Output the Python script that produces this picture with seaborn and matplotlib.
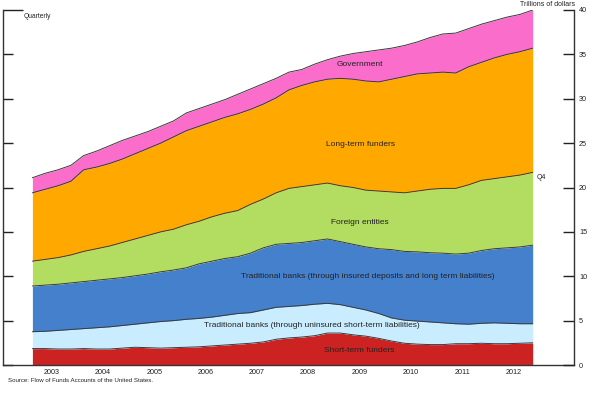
import numpy as np
import pandas as pd
import matplotlib.pyplot as plt
import seaborn as sns

# quarterly data, trillions of dollars
quarters = pd.period_range("2003Q1", "2012Q4", freq="Q")

short_term = [1.85, 1.85, 1.80, 1.80, 1.85, 1.80, 1.80, 1.90, 2.00, 1.95,
              1.90, 1.95, 2.00, 2.05, 2.15, 2.25, 2.35, 2.45, 2.60, 2.90,
              3.05, 3.15, 3.30, 3.60, 3.60, 3.40, 3.25, 3.00, 2.70, 2.45,
              2.35, 2.30, 2.30, 2.40, 2.40, 2.45, 2.40, 2.40, 2.45, 2.50]
uninsured = [1.90, 1.95, 2.10, 2.20, 2.25, 2.40, 2.50, 2.55, 2.60, 2.80,
             3.00, 3.05, 3.15, 3.20, 3.25, 3.35, 3.45, 3.45, 3.60, 3.60,
             3.55, 3.55, 3.55, 3.35, 3.20, 3.10, 2.95, 2.80, 2.60, 2.60,
             2.60, 2.55, 2.45, 2.25, 2.20, 2.25, 2.35, 2.30, 2.20, 2.15]
insured = [5.15, 5.20, 5.20, 5.25, 5.30, 5.35, 5.40, 5.40, 5.45, 5.50,
           5.60, 5.70, 5.80, 6.15, 6.30, 6.40, 6.40, 6.70, 7.00, 7.10,
           7.10, 7.10, 7.15, 7.25, 7.10, 7.10, 7.10, 7.30, 7.70, 7.75,
           7.80, 7.80, 7.85, 7.85, 8.00, 8.20, 8.35, 8.50, 8.65, 8.85]
foreign = [2.80, 2.90, 3.00, 3.15, 3.40, 3.55, 3.70, 3.95, 4.15, 4.35,
           4.50, 4.60, 4.85, 4.80, 5.00, 5.10, 5.20, 5.50, 5.50, 5.80,
           6.20, 6.30, 6.30, 6.30, 6.30, 6.40, 6.40, 6.50, 6.50, 6.60,
           6.85, 7.15, 7.30, 7.40, 7.70, 7.90, 7.90, 8.00, 8.10, 8.20]
long_term = [7.70, 7.90, 8.10, 8.30, 9.20, 9.20, 9.30, 9.40, 9.60, 9.80,
             10.00, 10.40, 10.60, 10.70, 10.70, 10.80, 10.90, 10.70, 10.70, 10.70,
             11.10, 11.40, 11.60, 11.70, 12.10, 12.20, 12.30, 12.30, 12.70, 13.10,
             13.20, 13.10, 13.10, 13.00, 13.30, 13.30, 13.60, 13.80, 13.90, 14.00]
government = [1.70, 1.80, 1.80, 1.80, 1.60, 1.80, 2.00, 2.10, 2.00, 1.90,
              1.90, 1.80, 2.00, 2.00, 2.00, 2.00, 2.20, 2.30, 2.30, 2.20,
              2.00, 1.80, 2.00, 2.20, 2.50, 2.90, 3.30, 3.60, 3.50, 3.50,
              3.60, 4.00, 4.30, 4.50, 4.30, 4.30, 4.20, 4.20, 4.20, 4.30]

names = ["Short-term funders",
         "Traditional banks (through uninsured short-term liabilities)",
         "Traditional banks (through insured deposits and long term liabilities)",
         "Foreign entities",
         "Long-term funders",
         "Government"]
colors = ["#cc2222", "#c9edff", "#4580cc", "#b2dd60", "#ffa900", "#fb6dcb"]
years = list(range(2003, 2013))

sns.set_style("white")
plt.rcParams["font.family"] = ["Liberation Sans", "DejaVu Sans"]
txt = "#222222"

series = [short_term, uninsured, insured, foreign, long_term, government]
x = quarters.year + (quarters.quarter - 0.5) / 4

fig = plt.figure(figsize=(6, 3.96), dpi=100)
ax = fig.add_axes([3 / 600, 31 / 396, 571 / 600, 355 / 396])

ax.stackplot(x, series, colors=colors, linewidth=0)

# dark outline along the top of every band
tops = pd.DataFrame(np.cumsum(series, axis=0).T, index=x, columns=names)
for col in tops.columns:
    sns.lineplot(x=tops.index, y=tops[col], ax=ax, color="#3a3a3a", lw=0.7)

ax.set_xlim(2002.552, 2013.68)
ax.set_ylim(0, 40)
ax.set_xlabel("")
ax.set_ylabel("")

# x axis: ticks at year boundaries, labels mid-year
ax.set_xticks(range(2003, 2014))
ax.set_xticks([y + 0.5 for y in years], minor=True)
ax.set_xticklabels([str(y) for y in years], minor=True)
ax.tick_params(axis="x", which="major", direction="in", length=8, width=1,
               color="#222222", labelbottom=False)
ax.tick_params(axis="x", which="minor", length=0, labelsize=5.2, pad=3,
               labelcolor=txt)

# left axis: ticks only
ax.set_yticks(range(0, 40, 5))
ax.set_yticks([40], minor=True)
ax.tick_params(axis="y", which="major", direction="in", length=7.2, width=1,
               color="#222222", labelleft=False, left=True)
ax.tick_params(axis="y", which="minor", direction="in", length=14.5, width=1,
               color="#222222", left=True)

# right axis with labels
ax2 = ax.twinx()
ax2.set_ylim(0, 40)
ax2.set_yticks(range(0, 45, 5))
ax2.set_yticks([40], minor=True)
ax2.tick_params(axis="y", which="major", direction="in", length=8, width=1,
                color="#222222", labelsize=5.2, pad=3.6, labelcolor=txt)
ax2.tick_params(axis="y", which="minor", direction="in", length=15, width=1,
                color="#222222")

for a in (ax, ax2):
    a.spines["top"].set_visible(False)
    for s in ("left", "right", "bottom"):
        a.spines[s].set_color("#333333")
        a.spines[s].set_linewidth(1)
ax.spines["right"].set_visible(False)
ax2.spines["left"].set_visible(False)
ax2.spines["bottom"].set_visible(False)

# band labels
lab = dict(ha="center", va="center", fontsize=6, color=txt)
ax.text(2009.51, 33.9, names[5], **lab)
ax.text(2009.51, 24.9, names[4], **lab)
ax.text(2009.51, 16.0, names[3], **lab)
ax.text(2009.67, 10.0, names[2], **lab)
ax.text(2008.58, 4.46, names[1], **lab)
ax.text(2009.49, 1.64, names[0], **lab)
ax.text(2012.95, 21.1, "Q4", ha="left", va="center", fontsize=5, color=txt)

fig.text(24 / 600, 1 - 16 / 396, "Quarterly", ha="left", va="center",
         fontsize=4.8, color=txt)
fig.text(575 / 600, 1 - 4 / 396, "Trillions of dollars", ha="right",
         va="center", fontsize=5, color=txt)
fig.text(8 / 600, 1 - 380 / 396,
         "Source: Flow of Funds Accounts of the United States.",
         ha="left", va="center", fontsize=4.4, color=txt)

fig.savefig("out.png", dpi=100)
